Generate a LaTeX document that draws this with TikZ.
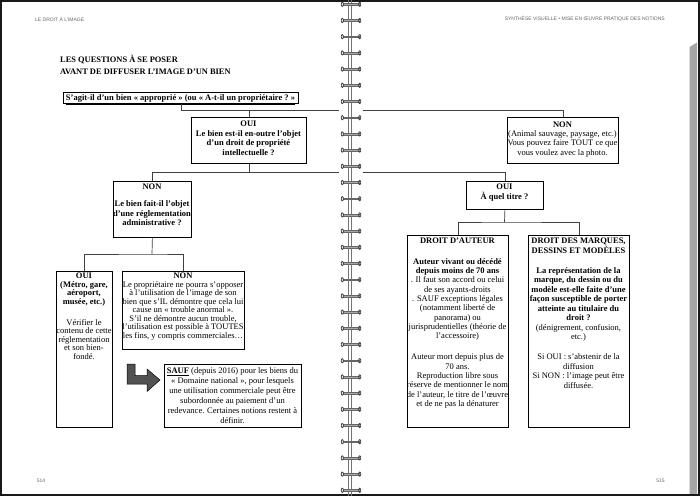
\documentclass[tikz,border=0pt]{standalone}
\usepackage{fontspec}
\setmainfont{Liberation Serif}
\newfontfamily\hdrfont{Liberation Sans}
\AtBeginDocument{\lineskiplimit=-100pt\relax}
\newcommand\fst{\rule{0pt}{9pt}}
\tikzset{
  boxst/.style={draw=black, line width=0.8pt, inner sep=0pt, anchor=north west, fill=white},
  txt/.style={inner sep=0pt, anchor=north, align=center, font=\fontsize{8.5}{#1}\selectfont},
  txt/.default=9.5,
  conn/.style={draw=black!75, line width=0.7pt},
  hdr/.style={inner sep=0pt, text=black!60, font=\hdrfont\fontsize{5}{6}\selectfont},
  titlest/.style={inner sep=0pt, anchor=north west, align=left, font=\bfseries\fontsize{8.4}{12}\selectfont},
  ringbar/.style={line width=1.8pt, draw=black!35},
  ringcap/.style={line width=0.8pt, draw=black!75},
}
\begin{document}
\begin{tikzpicture}[x=1pt,y=-1pt]
\useasboundingbox (0,0) rectangle (700,496);
\fill[white] (0,0) rectangle (700,496);
% grey tab on the right
\fill[black!35] (689.5,47) -- (697,42.5) -- (697,494) -- (689.5,494) -- cycle;
% page border
\draw[line width=2.2pt, black!90] (1.1,1.1) rectangle (698.9,494.9);

% spine
\draw[line width=0.7pt, black!55] (348,0) -- (348,496);
\draw[line width=0.7pt, black!55] (351.3,0) -- (351.3,496);
\foreach \k in {0,...,30}{
  \pgfmathsetmacro\yy{4.3+16.2*\k}
  \draw[ringbar] (342.5,\yy) -- (359.5,\yy);
  \draw[line width=0.35pt, black!60] (342.5,\yy-0.9) -- (359.5,\yy-0.9);
  \draw[line width=0.35pt, black!60] (342.5,\yy+0.9) -- (359.5,\yy+0.9);
  \draw[ringcap] (342.3,\yy) ellipse (1.1 and 2.1);
  \draw[ringcap] (359.7,\yy) ellipse (1.1 and 2.1);
}

% headers and page numbers
\node[hdr, anchor=west] (hl) at (35,19) {LE DROIT À L’IMAGE};
\node[hdr, anchor=east] (hr) at (665,19) {SYNTHÈSE VISUELLE • MISE EN ŒUVRE PRATIQUE DES NOTIONS};
\node[hdr] (p1) at (41,481) {514};
\node[hdr] (p2) at (660.5,481) {515};

% title
\node[titlest] (ti) at (60,52.8) {\fst LES QUESTIONS À SE POSER\\AVANT DE DIFFUSER L’IMAGE D’UN BIEN};

% boxes
\node[boxst, minimum width=235pt, minimum height=11pt] (b1) at (63,92) {};
\node[boxst, minimum width=115pt, minimum height=46pt] (b2) at (191,117) {};
\node[boxst, minimum width=111pt, minimum height=46pt] (b3) at (507,117) {};
\node[boxst, minimum width=78pt, minimum height=56pt] (b4) at (113,181) {};
\node[boxst, minimum width=77pt, minimum height=28pt] (b5) at (466,181) {};
\node[boxst, minimum width=101pt, minimum height=192pt] (b6) at (407,235) {};
\node[boxst, minimum width=101pt, minimum height=192pt] (b7) at (528,235) {};
\node[boxst, minimum width=56pt, minimum height=156pt] (b8) at (56,271) {};
\node[boxst, minimum width=122pt, minimum height=78pt] (b9) at (122,271) {};
\node[boxst, minimum width=137pt, minimum height=63pt] (b10) at (164,364) {};

% texts
\node[txt=9.5] (t1) at (180.5,91.5) {\fst\textbf{\underline{S’agit-il d’un bien «~approprié~» (ou «~A-t-il un propriétaire~?~»}}};
\node[txt=9.8] (t2) at (248.5,117) {\fst\textbf{OUI}\\\textbf{Le bien est-il en-outre l’objet}\\\textbf{d’un droit de propriété}\\\textbf{intellectuelle ?}};
\node[txt=9.2] (t3) at (562.5,118.3) {\fst\textbf{NON}\\(Animal sauvage, paysage, etc.)\\Vous pouvez faire TOUT ce que\\vous voulez avec la photo.};
\node[txt=9.7] (t4) at (152,180.7) {\fst\textbf{NON}\\[6.9pt]\textbf{Le bien fait-il l’objet}\\\textbf{d’une réglementation}\\\textbf{administrative ?}};
\node[txt=10.7] (t5) at (504.5,180) {\fst\textbf{OUI}\\\textbf{À quel titre ?}};
\node[txt=9.3] (t6) at (457.5,234.7) {\fst\textbf{DROIT D’AUTEUR}\\[11pt]
  \textbf{Auteur vivant ou décédé}\\\textbf{depuis moins de 70 ans}\\
  . Il faut son accord ou celui\\de ses ayants-droits\\. SAUF exceptions légales\\
  (notamment liberté de\\panorama) ou\\jurisprudentielles (théorie de\\l’accessoire)\\[12pt]
  Auteur mort depuis plus de\\70 ans.\\Reproduction libre sous\\réserve de mentionner le nom\\
  de l’auteur, le titre de l’œuvre\\et de ne pas la dénaturer};
\node[txt=9.5] (t7) at (578.5,234.7) {\fst\textbf{DROIT DES MARQUES,}\\\textbf{DESSINS ET MODÈLES}\\[10.3pt]
  \textbf{La représentation de la}\\\textbf{marque, du dessin ou du}\\\textbf{modèle est-elle faite d’une}\\
  \textbf{façon susceptible de porter}\\\textbf{atteinte au titulaire du}\\\textbf{droit ?}\\
  (dénigrement, confusion,\\etc.)\\[10.7pt]
  Si OUI : s’abstenir de la\\diffusion\\Si NON : l’image peut être\\diffusée.};
\node[txt=8.5] (t8) at (84,269.7) {\fst\textbf{OUI}\\\textbf{(Métro, gare,}\\\textbf{aéroport,}\\\textbf{musée, etc.)}\\[12.2pt]
  Vérifier le\\contenu de cette\\réglementation\\et son bien-\\fondé.};
\node[txt=8.5] (t9) at (183,269.7) {\fst\textbf{NON}\\Le propriétaire ne pourra s’opposer\\à l’utilisation de l’image de son\\
  bien que s’IL démontre que cela lui\\cause un «~trouble anormal~».\\S’il ne démontre aucun trouble,\\
  l’utilisation est possible à TOUTES\\les fins, y compris commerciales…};
\node[txt=10] (t10) at (232.5,364.7) {\fst\underline{\textbf{SAUF}} (depuis 2016) pour les biens du\\«~Domaine national~», pour lesquels\\
  une utilisation commerciale peut être\\subordonnée au paiement d’un\\redevance. Certaines notions restent à\\définir.};

% arrow
\filldraw[fill=black!68, draw=black, line width=0.5pt] (127,364) -- (135,364) -- (135,375.5) -- (147,375.5) -- (147,369) -- (160,380) -- (147,391.5) -- (147,384) -- (127,384) -- cycle;

% connectors
\coordinate (sL1) at (339,110);
\coordinate (sR1) at (363,110);
\draw[conn] (b1.south) |- (sL1);
\draw[conn] (sR1) -| (b3.north);
\draw[conn] (b2.north) -- (b2.north |- sL1);
\coordinate (sL2) at (339,172);
\coordinate (sR2) at (363,172);
\draw[conn] (b2.south) -- (b2.south |- sL2);
\draw[conn] (b4.north) |- (sL2);
\draw[conn] (sR2) -| (b5.north);
\coordinate (j3) at (504.5,222);
\draw[conn] (b5.south) -- (j3);
\draw[conn] (b6.north) |- (j3) -| (b7.north);
\coordinate (j4) at (152,254);
\draw[conn] (b4.south) -- (j4);
\draw[conn] (b8.north) |- (j4) -| (b9.north);
\end{tikzpicture}
\end{document}
